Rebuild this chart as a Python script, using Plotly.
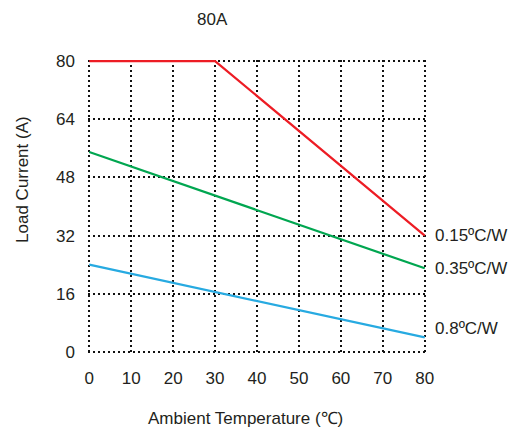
import plotly.graph_objects as go

temps = [0, 30, 80]
red_vals = [80, 80, 32]
green_x = [0, 80]
green_vals = [55, 23]
blue_x = [0, 80]
blue_vals = [24, 4]
labels = ["0.15ºC/W", "0.35ºC/W", "0.8ºC/W"]
x_ticks = [0, 10, 20, 30, 40, 50, 60, 70, 80]
y_ticks = [0, 16, 32, 48, 64, 80]

FONT = "Liberation Sans, Arial, sans-serif"
TXT = "#231F20"
DOT = "2px,3px"
fig = go.Figure()
series = [
    (temps, red_vals, "#ED1C24", labels[0], 0),
    (green_x, green_vals, "#00A650", labels[1], 0),
    (blue_x, blue_vals, "#27AAE1", labels[2], 9),
]
for xs, ys, col, lab, ysh in series:
    fig.add_trace(go.Scatter(x=xs, y=ys, mode="lines",
                             line=dict(color=col, width=2.2),
                             showlegend=False, hoverinfo="skip"))
    fig.add_annotation(x=xs[-1], y=ys[-1], text=lab, showarrow=False,
                       xanchor="left", yanchor="middle", xshift=8, yshift=ysh,
                       font=dict(family=FONT, size=17, color=TXT))

grid = dict(showgrid=True, gridcolor="#111", griddash=DOT, gridwidth=2,
            zeroline=False, showline=False, ticks="",
            tickfont=dict(family=FONT, size=17, color=TXT))
fig.update_xaxes(range=[-0.3, 80.3], tickvals=x_ticks, ticklabelstandoff=13, **grid)
fig.update_yaxes(range=[-0.3, 80.3], tickvals=y_ticks, ticklabelstandoff=12, **grid)

fig.add_annotation(xref="paper", yref="paper", x=0.369, y=1.137, text="80A",
                   xanchor="center", yanchor="middle", showarrow=False,
                   font=dict(family=FONT, size=17, color=TXT))
fig.add_annotation(xref="paper", yref="paper", x=0.467, y=-0.223,
                   text="Ambient Temperature (℃)", showarrow=False,
                   xanchor="center", yanchor="middle",
                   font=dict(family=FONT, size=17, color=TXT))
fig.add_annotation(xref="paper", yref="paper", x=-0.192, y=0.591,
                   text="Load Current (A)", showarrow=False, textangle=-90,
                   xanchor="center", yanchor="middle",
                   font=dict(family=FONT, size=17, color=TXT))

fig.update_layout(width=530, height=430, margin=dict(l=88, r=104, t=60, b=77),
                  plot_bgcolor="white", paper_bgcolor="white", hovermode=False)
fig.write_html("out.html", post_script="document.body.style.margin='0';",
               config={"displayModeBar": False})
